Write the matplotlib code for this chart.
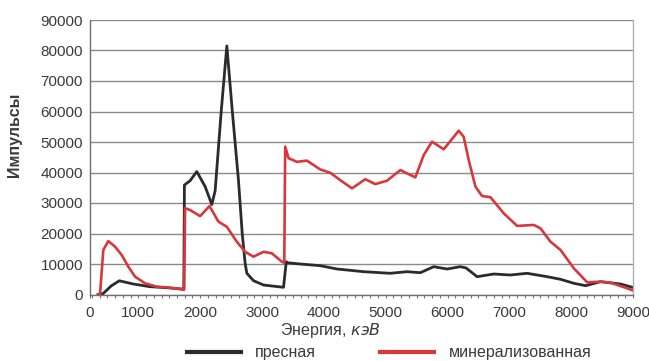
import matplotlib
matplotlib.use("Agg")
import matplotlib.pyplot as plt
from matplotlib.ticker import FixedLocator, MultipleLocator

# ---- data ----
fresh_x = [348, 430, 560, 692, 919, 1189, 1460, 1703, 1735,
           1745, 1837, 1945, 2080, 2188, 2242, 2340, 2431, 2520, 2619, 2680,
           2727, 2755, 2862, 3024, 3200, 3348,
           3392, 3402, 3618, 3942, 4212, 4643, 5075, 5345, 5561, 5777, 5993,
           6208, 6300, 6479, 6748, 7018, 7288, 7612, 7828, 8043, 8233, 8475,
           8799, 9000]
fresh_y = [0, 300, 2800, 4500, 3440, 2560, 2230, 1800, 1700,
           35900, 37300, 40300, 35400, 29500, 34000, 60000, 81500, 60000, 37500, 20000,
           10200, 6950, 4530, 3110, 2700, 2360,
           10750, 10430, 10000, 9450, 8360, 7480, 6950, 7480, 7150, 9120, 8360,
           9120, 8700, 5840, 6720, 6390, 6950, 5840, 4980, 3670, 2890, 4200,
           3440, 2300]

mineral_x = [348, 380, 433, 514, 623, 731, 838, 947, 1108, 1298, 1513, 1703, 1740,
             1756, 1837, 1999, 2150, 2295, 2431, 2593, 2727, 2862, 3024, 3159,
             3321, 3360,
             3375, 3429, 3564, 3726, 3942, 4104, 4266, 4455, 4670, 4832, 5021,
             5237, 5480, 5615, 5750, 5939, 6181, 6262, 6343, 6451, 6559, 6694,
             6910, 7126, 7396, 7504, 7666, 7828, 8043, 8259, 8475, 8637, 8907,
             9000]
mineral_y = [0, 0, 14600, 17500, 15700, 12950, 9120, 5840, 3670, 2560, 2230, 1700, 1600,
             28300, 27700, 25700, 29000, 23900, 22200, 17300, 14000, 12400, 14000, 13500,
             10750, 10400,
             48500, 44700, 43500, 43900, 41000, 39900, 37500, 34800, 37800, 36200, 37300,
             40800, 38400, 45700, 50100, 47600, 53700, 51700, 44100, 35400, 32300, 31900,
             26600, 22500, 22800, 21700, 17300, 14600, 8600, 4000, 4200, 3870, 2030,
             1300]

x_tick_pos = [218, 1000, 2000, 3000, 4000, 5000, 6000, 7000, 8000, 9000]
x_tick_labels = ["0", "1000", "2000", "3000", "4000", "5000", "6000", "7000", "8000", "9000"]
y_ticks = [0, 10000, 20000, 30000, 40000, 50000, 60000, 70000, 80000, 90000]

series_names = ["пресная", "минерализованная"]

# ---- style ----
FONT = ['Liberation Sans', 'DejaVu Sans']
plt.rcParams['font.family'] = FONT
TXT = '#3a3a3a'
FS = 11.5

fig = plt.figure(figsize=(6.49, 3.61), dpi=100)
ax = fig.add_axes([90/649, 1-294.5/361, 543/649, 274.5/361])

l1, = ax.plot(fresh_x, fresh_y, color='#2b2b2e', lw=2.0, solid_joinstyle='round')
l2, = ax.plot(mineral_x, mineral_y, color='#d8383c', lw=1.9, solid_joinstyle='round')

ax.set_xlim(218, 9000)
ax.set_ylim(0, 90000)
ax.xaxis.set_major_locator(FixedLocator(x_tick_pos))
ax.set_xticklabels(x_tick_labels)
ax.xaxis.set_minor_locator(MultipleLocator(125))
ax.set_yticks(y_ticks)
ax.yaxis.grid(True, color='#8a8a8a', lw=1.0)
ax.set_axisbelow(True)

ax.tick_params(axis='both', labelsize=11, colors=TXT, length=0, pad=5)
ax.tick_params(axis='x', which='minor', length=2, color='#777777', width=0.8, direction='out')
ax.tick_params(axis='x', which='major', length=2, color='#777777', width=0.8, direction='out', pad=6)

for s in ['left', 'bottom']:
    ax.spines[s].set_color('#707070')
    ax.spines[s].set_linewidth(1.0)
ax.spines['right'].set_color('#b0b0b0')
ax.spines['right'].set_linewidth(1.0)
ax.spines['top'].set_visible(False)

fig.text(15/649, 1-135/361, 'Импульсы', rotation=90, ha='center', va='center',
         fontsize=FS, color=TXT, family=FONT, fontweight='bold')
fig.text(330/649, 1-331/361, 'Энергия, $\\mathit{кэВ}$', ha='center', va='center',
         fontsize=FS, color=TXT, family=FONT)

leg = fig.legend([l1, l2], series_names, loc='center', bbox_to_anchor=(389/649, 1-353/361),
                 ncol=2, frameon=False, fontsize=FS, handlelength=3.4, columnspacing=4.0,
                 handletextpad=0.9, borderpad=0, labelcolor=TXT)
for h in leg.legend_handles:
    h.set_linewidth(3.0)

fig.savefig('out.png', dpi=100)
